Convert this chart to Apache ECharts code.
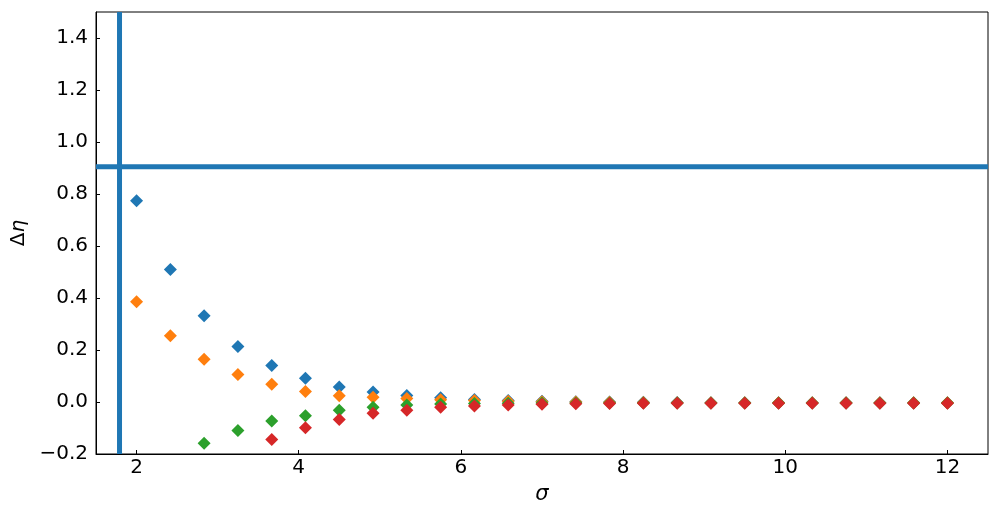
<!DOCTYPE html>
<html>
<head>
<meta charset="utf-8">
<script src="https://cdn.jsdelivr.net/npm/echarts@6/dist/echarts.min.js"></script>
<style>html,body{margin:0;padding:0;background:#fff;}#c{width:999px;height:514px;}</style>
</head>
<body>
<div id="c"></div>
<script>
const sigma = [2, 2.417, 2.833, 3.25, 3.667, 4.083, 4.5, 4.917, 5.333, 5.75, 6.167, 6.583, 7, 7.417, 7.833, 8.25, 8.667, 9.083, 9.5, 9.917, 10.333, 10.75, 11.167, 11.583, 12];
const blueVals = [0.774, 0.51, 0.332, 0.213, 0.14, 0.091, 0.058, 0.038, 0.025, 0.016, 0.010, 0.006, 0.003, 0.001, 0, -0.001, -0.002, -0.003, -0.003, -0.003, -0.003, -0.003, -0.003, -0.003, -0.003];
const orangeVals = [0.386, 0.255, 0.164, 0.106, 0.068, 0.040, 0.024, 0.018, 0.013, 0.009, 0.006, 0.003, 0.001, 0, -0.001, -0.002, -0.003, -0.003, -0.003, -0.003, -0.003, -0.003, -0.003, -0.003, -0.003];
const greenVals = [-0.39, -0.26, -0.159, -0.11, -0.073, -0.053, -0.032, -0.020, -0.012, -0.008, -0.006, -0.005, -0.004, -0.004, -0.004, -0.004, -0.004, -0.004, -0.004, -0.004, -0.004, -0.004, -0.004, -0.004, -0.004];
const redVals = [-0.78, -0.52, -0.34, -0.215, -0.144, -0.099, -0.067, -0.043, -0.032, -0.020, -0.015, -0.012, -0.009, -0.007, -0.006, -0.005, -0.005, -0.005, -0.005, -0.005, -0.005, -0.005, -0.005, -0.005, -0.005];
const vLineX = 1.79;
const hLineY = 0.905;
const xTicks = [2, 4, 6, 8, 10, 12];
const yTicks = [-0.2, 0, 0.2, 0.4, 0.6, 0.8, 1.0, 1.2, 1.4];

const colors = ['#1f77b4', '#ff7f0e', '#2ca02c', '#d62728'];
const seriesVals = [blueVals, orangeVals, greenVals, redVals];
const font = 'DejaVu Sans';

const chart = echarts.init(document.getElementById('c'), null, {renderer: 'canvas'});
const series = seriesVals.map((vals, i) => ({
  type: 'scatter',
  data: sigma.map((s, j) => [s, vals[j]]),
  symbol: 'diamond',
  symbolSize: 13,
  itemStyle: {color: colors[i], opacity: 1},
  clip: true,
  z: 3 + i,
  silent: true
}));
series.push({
  type: 'line',
  data: [[vLineX, -0.2], [vLineX, 1.5]],
  symbol: 'none',
  lineStyle: {color: '#1f77b4', width: 5},
  clip: true, z: 2, silent: true
});
series.push({
  type: 'line',
  data: [[1.5, hLineY], [12.5, hLineY]],
  symbol: 'none',
  lineStyle: {color: '#1f77b4', width: 5},
  clip: true, z: 2, silent: true
});

chart.setOption({
  animation: false,
  backgroundColor: '#fff',
  grid: {left: 96, right: 11, top: 12, bottom: 60, show: true, borderColor: '#000', borderWidth: 1, backgroundColor: 'transparent'},
  xAxis: {
    type: 'value', min: 1.5, max: 12.5,
    name: 'σ', nameLocation: 'middle', nameGap: 30,
    nameTextStyle: {fontFamily: font, fontSize: 21, fontStyle: 'italic', color: '#000'},
    axisLine: {show: true, onZero: false, lineStyle: {color: '#000', width: 1}},
    axisTick: {show: true, inside: true, length: 4, lineStyle: {color: '#000'}, customValues: xTicks},
    axisLabel: {show: true, fontFamily: font, fontSize: 20, color: '#000', margin: 4, customValues: xTicks,
      formatter: v => String(v)},
    splitLine: {show: false}
  },
  yAxis: {
    type: 'value', min: -0.2, max: 1.5,
    name: '{a|Δ}{b|η}', nameLocation: 'middle', nameGap: 66, nameRotate: 90,
    nameTextStyle: {fontFamily: font, fontSize: 20, color: '#000',
      rich: {a: {fontFamily: font, fontSize: 20, color: '#000'}, b: {fontFamily: font, fontSize: 20, fontStyle: 'italic', color: '#000'}}},
    axisLine: {show: true, onZero: false, lineStyle: {color: '#000', width: 1}},
    axisTick: {show: true, inside: true, length: 4, lineStyle: {color: '#000'}, customValues: yTicks},
    axisLabel: {show: true, fontFamily: font, fontSize: 20, color: '#000', margin: 8, customValues: yTicks,
      formatter: v => (v < 0 ? '\u2212' : '') + Math.abs(v).toFixed(1)},
    splitLine: {show: false}
  },
  series: series
});
</script>
</body>
</html>
